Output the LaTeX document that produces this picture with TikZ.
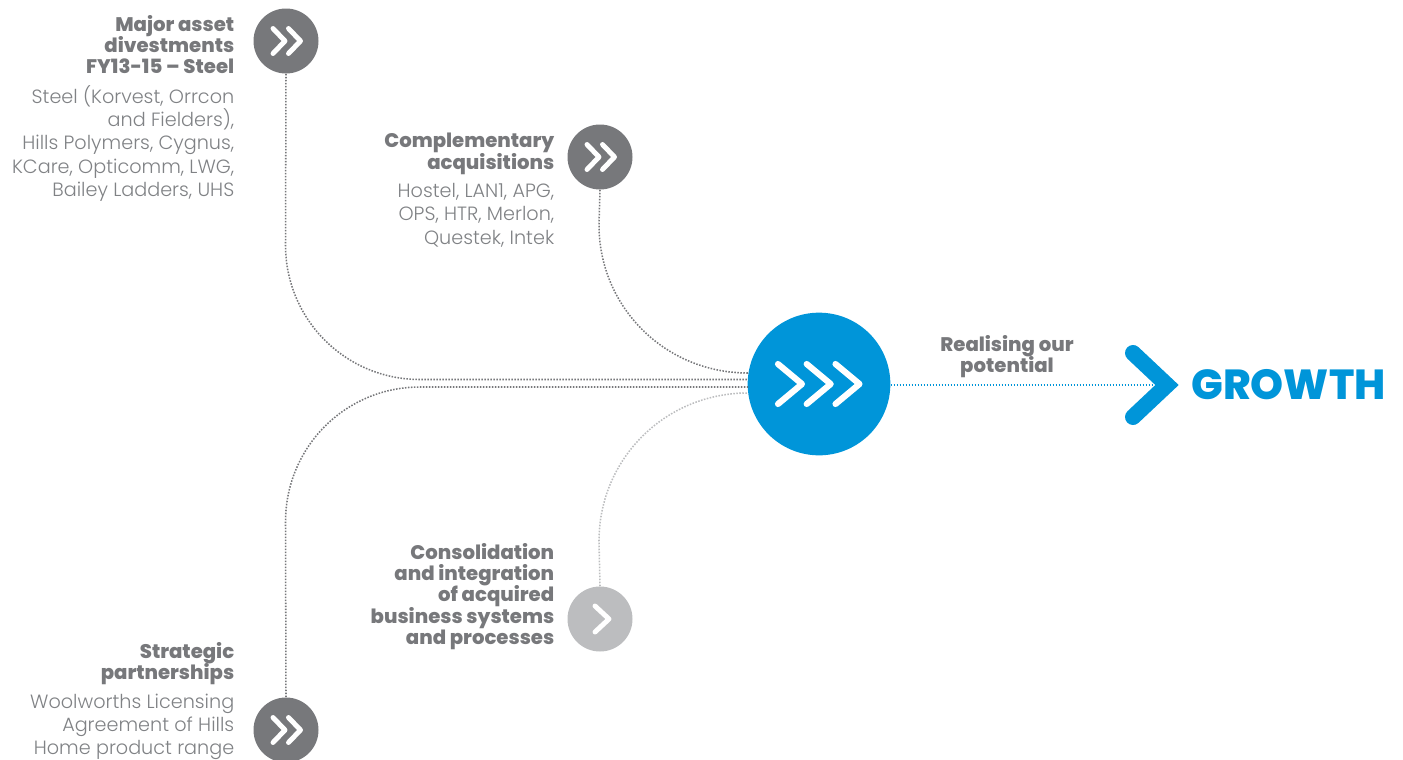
\documentclass[tikz,border=0pt]{standalone}
\usepackage{fontspec}
\setmainfont{Poppins Light}
\newfontfamily\heavyfont{Poppins ExtraBold}
\newcommand\headfmt{\heavyfont\fontsize{14.75pt}{16pt}\selectfont\lineskiplimit-10pt\relax}
\newcommand\bodyfmt{\fontsize{14.4pt}{17.5pt}\selectfont\lineskiplimit-10pt\relax}
\definecolor{cgrey}{HTML}{77787B}
\definecolor{cbody}{HTML}{808285}
\definecolor{clight}{HTML}{BCBDBF}
\definecolor{cblue}{HTML}{0095D9}
\tikzset{
  x=0.75pt,y=-0.75pt,
  smallcirc/.style={circle,minimum size=48.75pt,inner sep=0pt,fill=cgrey},
  lightcirc/.style={smallcirc,fill=clight},
  bigcirc/.style={circle,minimum size=107pt,inner sep=0pt,fill=cblue},
  chev/.style={draw=white,line width=3.7pt,line cap=round,line join=round},
  dotline/.style={draw=cgrey,line width=1.15pt,dash pattern=on 1.15pt off 1.1pt},
  dotlight/.style={dotline,draw=clight},
  dotblue/.style={dotline,draw=cblue},
  headtxt/.style={anchor=north east,inner sep=0pt,align=right,text=cgrey,font=\headfmt},
  bodytxt/.style={anchor=north east,inner sep=0pt,align=right,text=cbody,font=\bodyfmt},
}
\begin{document}
\begin{tikzpicture}
\useasboundingbox (0,0) rectangle (1403,760);
\node[smallcirc] (a) at (286,41) {};
\node[smallcirc] (b) at (600,157) {};
\node[lightcirc] (c) at (600,619) {};
\node[smallcirc] (d) at (286,730) {};
\node[bigcirc] (hub) at (819,384) {};
\coordinate (a1) at (748,379.5);
\coordinate (b1) at (748,373);
\coordinate (d1) at (748,387);
\coordinate (c1) at (748,393);
\coordinate (tip) at (1165,385);
\draw[dotline] (a.south) -- (285.5,245) .. controls (285.5,319.5) and (345.5,379.5) .. (420,379.5) -- (a1);
\draw[dotline] (b.south) -- (599,225) .. controls (599,307) and (665,373) .. (b1);
\draw[dotline] (d.north) -- (285.5,522) .. controls (285.5,447) and (345.5,387) .. (420,387) -- (d1);
\draw[dotlight] (c.north) -- (599,541) .. controls (599,459) and (665,393) .. (c1);
\draw[dotblue] (hub.east |- tip) -- (tip);
\foreach \n in {a,b,d}{
  \foreach \dx in {-13,2.5}{
    \draw[chev] ([shift={(\dx,-12.5)}]\n.center) -- ([shift={(\dx+12,0)}]\n.center) -- ([shift={(\dx,12.5)}]\n.center);
  }
}
\draw[chev] ([shift={(-5,-13)}]c.center) -- ([shift={(9,0)}]c.center) -- ([shift={(-5,13)}]c.center);
\foreach \dx in {0,28.7,57.5}{
  \draw[chev,line width=4.6pt] ([shift={(-41+\dx,-20)}]hub.center) -- ([shift={(-17+\dx,0)}]hub.center) -- ([shift={(-41+\dx,20)}]hub.center);
}
\draw[draw=cblue,line width=12pt,line cap=round,miter limit=10] (1133,353) -- (1167,385) -- (1133,417);
\node[headtxt] (ta) at (234.5,15) {Major asset\\divestments\\FY13-15 – Steel};
\node[bodytxt] (tab) at (234.5,85) {Steel (Korvest, Orrcon\\and Fielders),\\Hills Polymers, Cygnus,\\KCare, Opticomm, LWG,\\Bailey Ladders, UHS};
\node[headtxt] (tb) at (554.5,133) {Complementary\\acquisitions};
\node[bodytxt] (tbb) at (554.5,183) {Hostel, LAN1, APG,\\OPS, HTR, Merlon,\\Questek, Intek};
\node[headtxt] (tc) at (554.5,543) {Consolidation\\and integration\\of acquired\\business systems\\and processes};
\node[headtxt] (td) at (234.5,642) {Strategic\\partnerships};
\node[bodytxt] (tdb) at (234.5,693.5) {Woolworths Licensing\\Agreement of Hills\\Home product range};
\node[headtxt,anchor=north,align=center] (te) at (1007,335) {Realising our\\potential};
\node[anchor=west,inner sep=0pt,text=cblue,font=\heavyfont\fontsize{31.5pt}{31.5pt}\selectfont] (g) at (1191,385) {GROWTH};
\end{tikzpicture}
\end{document}
